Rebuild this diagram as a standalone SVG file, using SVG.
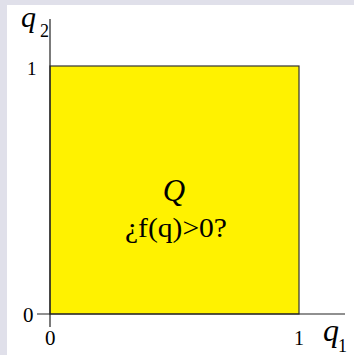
<svg xmlns="http://www.w3.org/2000/svg" width="354" height="355" viewBox="0 0 354 355">
<style>
.t{font-family:'Liberation Serif',serif;fill:#000}
.it{font-style:italic}
.ax{stroke:#222;stroke-width:1.2;fill:none}
</style>
<rect x="0" y="0" width="354" height="355" fill="#e0e0ea"/>
<rect x="7" y="5" width="347" height="350" fill="#fff"/>
<g id="region">
<rect x="50" y="66" width="249" height="248" fill="#fff200" stroke="#333" stroke-width="1.2"/>
<text x="174" y="201" font-size="31" text-anchor="middle" class="t it">Q</text>
<text x="176" y="237" font-size="28" text-anchor="middle" class="t" textLength="102" lengthAdjust="spacingAndGlyphs">¿f(q)&gt;0?</text>
</g>
<g id="axes">
<line class="ax" x1="50" y1="19" x2="50" y2="327"/>
<line class="ax" x1="37" y1="314" x2="345" y2="314"/>
</g>
<g id="labels">
<text x="21" y="27" font-size="30" class="t it">q</text>
<text x="40" y="37" font-size="18" class="t">2</text>
<text x="27" y="75" font-size="19" class="t">1</text>
<text x="23" y="322" font-size="21" class="t">0</text>
<text x="45" y="345" font-size="21" class="t">0</text>
<text x="294" y="345" font-size="20" class="t">1</text>
<text x="323" y="341" font-size="32" class="t it">q</text>
<text x="338" y="352" font-size="18" class="t">1</text>
</g>
</svg>
